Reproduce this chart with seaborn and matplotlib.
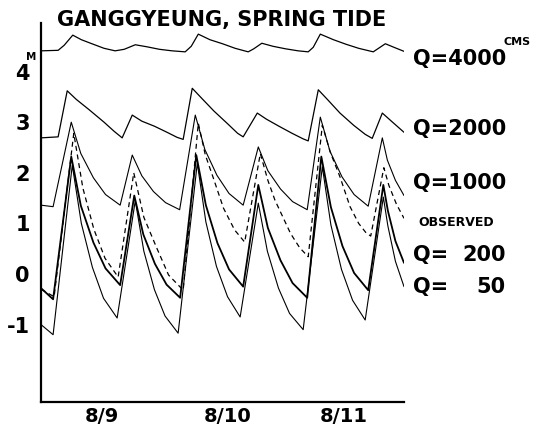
import matplotlib
matplotlib.use("Agg")
import matplotlib.pyplot as plt
import seaborn as sns
import pandas as pd

# ---- data (hours from 00:00 on 8/9, water level in m) ----
q4000_t = [0, 3.4, 4.6, 6.3, 8.0, 10.1, 12.5, 14.7, 16.5, 18.7, 21.0, 23.5, 26.0, 28.6, 29.8, 31.2, 33.5, 36.0, 38.5, 41.1,
           42.2, 43.8, 46.0, 48.5, 51.0, 53.0, 54.0, 55.4, 58.0, 60.5, 63.0, 65.9, 66.8, 68.3, 70.0, 72]
q4000_v = [4.41, 4.42, 4.52, 4.72, 4.63, 4.55, 4.46, 4.41, 4.44, 4.53, 4.49, 4.44, 4.41, 4.39, 4.50, 4.74, 4.63, 4.55, 4.46, 4.39,
           4.45, 4.56, 4.50, 4.45, 4.41, 4.39, 4.48, 4.74, 4.63, 4.54, 4.46, 4.39, 4.45, 4.55, 4.48, 4.40]

q2000_t = [0, 3.4, 5.2, 7.0, 9.5, 12.5, 14.5, 16.1, 18.1, 20.0, 22.5, 25.0, 27.0, 28.2, 30.0, 31.8, 34.3, 37.0, 39.0, 40.1,
           42.9, 44.7, 47.2, 49.8, 52.0, 53.0, 55.0, 56.8, 59.3, 62.0, 64.3, 65.7, 67.7, 69.5, 72]
q2000_v = [2.69, 2.71, 3.62, 3.45, 3.25, 3.00, 2.82, 2.69, 3.14, 3.02, 2.92, 2.80, 2.70, 2.66, 3.67, 3.48, 3.22, 2.97, 2.78, 2.71,
           3.18, 3.06, 2.92, 2.78, 2.67, 2.63, 3.64, 3.45, 3.18, 2.94, 2.76, 2.68, 3.18, 3.02, 2.80]

q1000_t = [0, 2.4, 6.0, 7.9, 10.4, 12.8, 15.7, 18.1, 20.0, 22.3, 24.7, 27.5, 30.6, 32.5, 34.9, 37.3, 40.1, 43.1, 45.0, 47.5,
           49.9, 52.8, 55.4, 57.3, 59.7, 62.1, 64.9, 67.7, 68.7, 70.3, 72]
q1000_v = [1.36, 1.33, 3.00, 2.38, 1.90, 1.57, 1.36, 2.35, 1.94, 1.63, 1.41, 1.27, 3.14, 2.46, 1.95, 1.59, 1.36, 2.51, 2.04, 1.68,
           1.43, 1.27, 3.10, 2.43, 1.92, 1.57, 1.34, 2.69, 2.25, 1.85, 1.55]

obs_t = [0, 2.6, 6.5, 8.3, 10.5, 12.7, 15.3, 18.4, 20.4, 22.8, 25.3, 28.2, 31.2, 32.6, 34.1, 36.2, 38.4, 40.4, 43.5, 45.0,
         46.4, 49.5, 51.3, 53.0, 55.8, 57.4, 59.3, 61.3, 63.0, 64.5, 65.4, 68.0, 69.0, 70.5, 72]
obs_v = [-0.30, -0.45, 2.78, 1.70, 0.88, 0.31, -0.06, 2.00, 1.12, 0.55, -0.02, -0.32, 2.98, 2.35, 1.92, 1.30, 0.87, 0.63, 2.38, 1.85,
         1.46, 0.80, 0.52, 0.34, 2.94, 2.40, 1.92, 1.33, 1.00, 0.81, 0.75, 2.10, 1.75, 1.38, 1.10]

q200_t = [0, 2.4, 6.0, 7.9, 10.4, 12.8, 15.7, 18.5, 20.3, 22.6, 24.9, 27.6, 30.8, 32.7, 35.0, 37.3, 40.1, 43.1, 45.0, 47.5,
          49.9, 52.8, 55.6, 57.5, 59.8, 62.1, 64.9, 67.9, 68.8, 70.3, 72]
q200_v = [-0.28, -0.50, 2.32, 1.35, 0.62, 0.11, -0.22, 1.55, 0.78, 0.20, -0.21, -0.47, 2.35, 1.36, 0.61, 0.09, -0.25, 1.76, 0.91, 0.27,
          -0.18, -0.47, 2.32, 1.32, 0.55, 0.02, -0.32, 1.76, 1.25, 0.65, 0.22]

q50_t = [0, 2.4, 6.2, 8.0, 10.2, 12.4, 15.1, 18.7, 20.4, 22.5, 24.6, 27.2, 31.0, 32.7, 34.8, 37.0, 39.5, 43.1, 44.9, 47.1,
         49.3, 52.0, 55.8, 57.5, 59.6, 61.8, 64.3, 67.9, 68.8, 70.3, 72]
q50_v = [-1.00, -1.20, 2.15, 1.00, 0.13, -0.48, -0.87, 1.45, 0.45, -0.31, -0.83, -1.17, 2.19, 1.03, 0.15, -0.45, -0.85, 1.40, 0.45, -0.28,
         -0.78, -1.10, 2.12, 0.97, 0.09, -0.52, -0.91, 1.52, 0.95, 0.25, -0.25]

y_ticks = [4, 3, 2, 1, 0, -1, -2]
y_tick_labels = ["4", "3", "2", "1", "0", "-1", ""]
day_labels = ["8/9", "8/10", "8/11"]
day_label_pos = [12, 37, 60]
day_ticks = [24, 48, 72]

series = [
    ("Q=4000", q4000_t, q4000_v),
    ("Q=2000", q2000_t, q2000_v),
    ("Q=1000", q1000_t, q1000_v),
    ("OBSERVED", obs_t, obs_v),
    ("Q=200", q200_t, q200_v),
    ("Q=50", q50_t, q50_v),
]
frames = [pd.DataFrame({"series": n, "hour": t, "level": v}) for n, t, v in series]
df = pd.concat(frames, ignore_index=True)

sns.set_style("white")
plt.rcParams["font.family"] = ["DejaVu Sans"]
plt.rcParams["text.color"] = "black"
plt.rcParams["xtick.color"] = "black"
plt.rcParams["ytick.color"] = "black"

fig = plt.figure(figsize=(5.47, 4.33), dpi=100)
W, H = 547, 433
ax = fig.add_axes([41 / W, 1 - 402 / H, (404 - 41) / W, (402 - 23) / H])

styles = {
    "Q=4000": dict(lw=0.9, ls="-"),
    "Q=2000": dict(lw=0.9, ls="-"),
    "Q=1000": dict(lw=0.8, ls="-"),
    "OBSERVED": dict(lw=0.9, ls=(0, (4, 3))),
    "Q=200": dict(lw=1.3, ls="-"),
    "Q=50": dict(lw=0.8, ls="-"),
}
for name, _, _ in series:
    sub = df[df["series"] == name]
    sns.lineplot(data=sub, x="hour", y="level", ax=ax, color="black",
                 linewidth=styles[name]["lw"], linestyle=styles[name]["ls"],
                 estimator=None, sort=False, legend=False)

ax.set_xlim(0, 72)
ax.set_ylim(-2.53, 4.96)
for s in ["top", "right"]:
    ax.spines[s].set_visible(False)
for s in ["left", "bottom"]:
    ax.spines[s].set_linewidth(1.6)
    ax.spines[s].set_color("black")
ax.set_xlabel("")
ax.set_ylabel("")

ax.set_yticks(y_ticks)
ax.set_yticklabels(y_tick_labels, fontsize=15, fontweight="bold", color="black")
ax.tick_params(axis="y", direction="out", length=3, width=1, pad=5, colors="black")
ax.set_xticks(day_ticks)
ax.set_xticklabels([])
ax.tick_params(axis="x", direction="inout", length=6, width=1, colors="black")

for lab, pos in zip(day_labels, day_label_pos):
    xp = ax.transData.transform((pos, 0))[0] / W
    fig.text(xp, 1 - 417 / H, lab, ha="center", va="center",
             fontsize=14, fontweight="bold", color="black")

fig.text(57 / W, 1 - 20 / H, "GANGGYEUNG, SPRING TIDE", ha="left", va="center",
         fontsize=15, fontweight="bold", color="black")
fig.text(31 / W, 1 - 57 / H, "M", ha="center", va="center", fontsize=7.5, fontweight="bold", color="black")

lx = 413 / W
rx = 506 / W
kw = dict(va="center", fontsize=15, fontweight="bold", color="black")
fig.text(lx, 1 - 59 / H, "Q=4000", ha="left", **kw)
fig.text(503 / W, 1 - 42 / H, "CMS", ha="left", va="center", fontsize=8, fontweight="bold", color="black")
fig.text(lx, 1 - 129 / H, "Q=2000", ha="left", **kw)
fig.text(lx, 1 - 183 / H, "Q=1000", ha="left", **kw)
fig.text(418 / W, 1 - 222 / H, "OBSERVED", ha="left", va="center", fontsize=9, fontweight="bold", color="black")
fig.text(lx, 1 - 255 / H, "Q=", ha="left", **kw)
fig.text(rx, 1 - 255 / H, "200", ha="right", **kw)
fig.text(lx, 1 - 287 / H, "Q=", ha="left", **kw)
fig.text(rx, 1 - 287 / H, "50", ha="right", **kw)

fig.savefig("out.png", dpi=100, facecolor="white")
